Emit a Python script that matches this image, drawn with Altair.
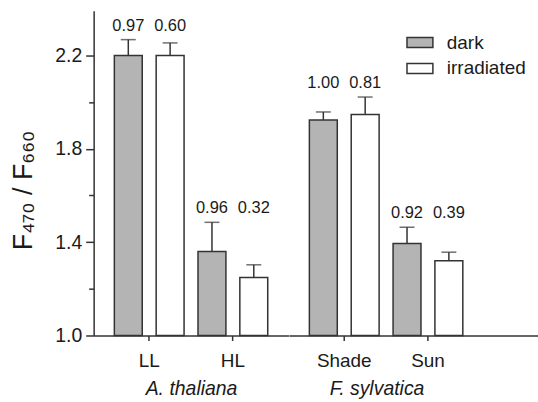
import altair as alt
import pandas as pd

species = ["A. thaliana", "A. thaliana", "F. sylvatica", "F. sylvatica"]
groups = ["LL", "HL", "Shade", "Sun"]
conds = ["dark", "irradiated"]
dark_mean = [2.20, 1.36, 1.924, 1.394]
dark_err = [0.068, 0.125, 0.034, 0.070]
irr_mean = [2.20, 1.249, 1.947, 1.320]
irr_err = [0.054, 0.054, 0.075, 0.037]
dark_ratio = [0.97, 0.96, 1.00, 0.92]
irr_ratio = [0.60, 0.32, 0.81, 0.39]
y_ticks = [1.0, 1.2, 1.4, 1.6, 1.8, 2.0, 2.2]

rows = []
for i in range(len(groups)):
    rows.append(dict(species=species[i], group=groups[i], cond="dark",
                     mean=dark_mean[i], err=dark_err[i], ratio=dark_ratio[i]))
    rows.append(dict(species=species[i], group=groups[i], cond="irradiated",
                     mean=irr_mean[i], err=irr_err[i], ratio=irr_ratio[i]))
df = pd.DataFrame(rows)
df["top"] = df["mean"] + df["err"]

FONT = "Liberation Sans"
INK = "#333333"
TXT = "#1a1a1a"

yscale = alt.Scale(domain=[1.0, 2.392], nice=False, zero=False)

yaxis = alt.Axis(
    values=y_ticks,
    title="F₄₇₀ / F₆₆₀",
    grid=False,
    labelExpr="round(datum.value*10) % 4 == 2 ? format(datum.value, '.1f') : ''",
    tickSize={"condition": {"test": "round(datum.value*10) % 4 == 2", "value": 8}, "value": 5},
    labelFontSize=19.5, labelFont=FONT, labelColor=TXT, labelPadding=4,
    titleFontSize=27, titleFont=FONT, titleFontWeight="normal", titleColor=TXT,
    titleX=-62, titleY=180, titleAlign="center", titleBaseline="alphabetic", titleAngle=270,
    domainColor=INK, domainWidth=1.5, tickColor=INK, tickWidth=1.5,
)


def xaxis(title, **kw):
    return alt.Axis(
        title=title, labelAngle=0, labelFontSize=19, labelFont=FONT, labelColor=TXT,
        labelPadding=11, tickSize=5, tickColor=INK, tickWidth=1.5,
        domainColor=INK, domainWidth=1.5,
        titleFontSize=19.5, titleFont=FONT, titleFontStyle="italic", titleFontWeight="normal",
        titleColor=TXT, titlePadding=9, **kw)


def panel(sp, width, xscale, xax, yax, legend):
    grp = [g for g, s in zip(groups, species) if s == sp]
    base = alt.Chart(df).transform_filter(alt.datum.species == sp)
    x = alt.X("group:N", sort=grp, scale=xscale, axis=xax)
    xo = alt.XOffset("cond:N", sort=conds,
                     scale=alt.Scale(paddingInner=0.333, paddingOuter=0.1667))
    bars = base.mark_bar(stroke=INK, strokeWidth=1.5).encode(
        x=x, xOffset=xo,
        y=alt.Y("mean:Q", scale=yscale, axis=yax),
        y2=alt.datum(1.0),
        fill=alt.Fill("cond:N", sort=conds,
                      scale=alt.Scale(domain=conds, range=["#b4b4b4", "#ffffff"]),
                      legend=legend),
    )
    rules = base.mark_rule(color=INK, strokeWidth=1.5).encode(
        x=x, xOffset=xo,
        y=alt.Y("mean:Q", scale=yscale, axis=yax),
        y2="top:Q",
    )
    caps = base.mark_tick(orient="horizontal", size=15, thickness=1.5, color=INK).encode(
        x=x, xOffset=xo,
        y=alt.Y("top:Q", scale=yscale, axis=yax),
    )
    text = base.transform_joinaggregate(lab="max(top)", groupby=["group"]).mark_text(
        dy=-9, baseline="alphabetic", fontSize=16.5, font=FONT, color=TXT
    ).encode(
        x=x, xOffset=xo,
        y=alt.Y("lab:Q", scale=yscale, axis=yax),
        text=alt.Text("ratio:Q", format=".2f"),
    )
    return alt.layer(bars, rules, caps, text).properties(width=width, height=326)


left = panel(
    "A. thaliana", 195.5,
    alt.Scale(paddingInner=0, paddingOuter=0.164),
    xaxis("A. thaliana"), yaxis, None,
)
right = panel(
    "F. sylvatica", 249.5,
    alt.Scale(paddingInner=0, paddingOuter=0.485, align=0.166),
    xaxis("F. sylvatica", titleX=88), None,
    alt.Legend(title=None, orient="none", legendX=117.5, legendY=18, padding=0,
               symbolType="M-1,-0.385H1V0.385H-1Z", symbolSize=676,
               symbolStrokeColor=INK, symbolStrokeWidth=1.5,
               labelFontSize=19, labelFont=FONT, labelColor=TXT,
               labelOffset=13, rowPadding=2),
)

chart = alt.hconcat(left, right, spacing=0).resolve_scale(
    x="independent", y="shared", fill="independent", xOffset="independent"
).properties(
    padding={"left": 10, "top": 10, "right": 0, "bottom": 0}
).configure_view(stroke=None)

chart.save("out.html", embed_options={"renderer": "svg", "actions": False})
